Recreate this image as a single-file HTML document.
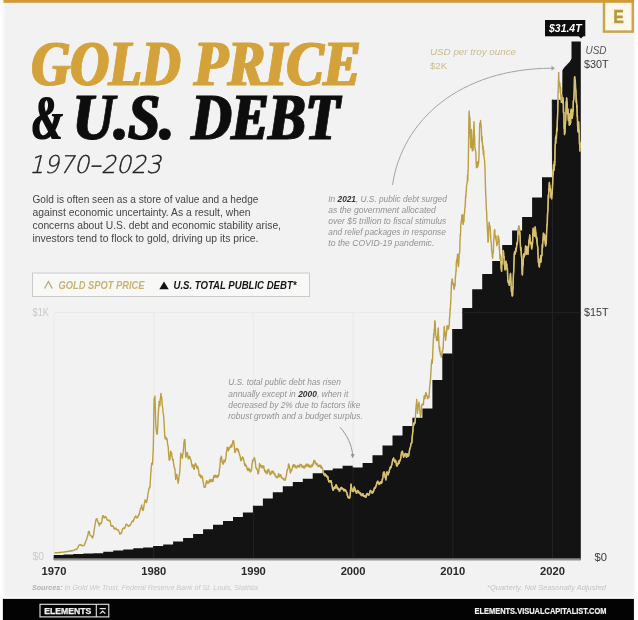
<!DOCTYPE html>
<html><head><meta charset="utf-8"><title>Gold Price &amp; U.S. Debt 1970–2023</title>
<style>
html,body{margin:0;padding:0;background:#f2f2f2;}
body{width:638px;height:620px;overflow:hidden;position:relative;}
svg{display:block;position:absolute;left:0;top:0;}
.serif{font-family:"Liberation Serif",serif;font-weight:bold;font-style:italic;}
.sans{font-family:"Liberation Sans",sans-serif;}
</style></head>
<body>
<svg width="638" height="620" viewBox="0 0 638 620">
  <rect x="0" y="0" width="638" height="620" fill="#f2f2f2"/>
  <defs>
    <linearGradient id="lg" x1="0" x2="1" y1="0" y2="0"><stop offset="0" stop-color="#ffffff"/><stop offset="0.3" stop-color="#fdfdfd"/><stop offset="1" stop-color="#f2f2f2"/></linearGradient>
    <linearGradient id="rg" x1="0" x2="1" y1="0" y2="0"><stop offset="0" stop-color="#f2f2f2"/><stop offset="0.5" stop-color="#fdfdfd"/><stop offset="1" stop-color="#ffffff"/></linearGradient>
    <filter id="didone" x="-5%" y="-5%" width="110%" height="110%"><feMorphology operator="dilate" radius="1.1 0.05"/></filter>
  </defs>
  <rect x="0" y="0" width="5.5" height="620" fill="url(#lg)"/>
  <rect x="633" y="0" width="5" height="620" fill="url(#rg)"/>
  <!-- top gold bar -->
  <!-- E logo -->
  <rect x="604" y="-1" width="28.8" height="32.6" fill="#fbf7e9" stroke="#c8a555" stroke-width="2.5"/>
  <rect x="3.5" y="0" width="630.5" height="2.8" fill="#d09b37"/>
  <text x="613.4" y="23.1" class="sans" font-weight="bold" font-size="18.5" fill="#b9983c" stroke="#b9983c" stroke-width="0.7" textLength="10.2" lengthAdjust="spacingAndGlyphs">E</text>

  <!-- title -->
  <text class="serif" font-size="64" fill="#d4a23a" stroke="#d4a23a" stroke-width="0.8" filter="url(#didone)"><tspan x="31.5" y="85.1" textLength="149" lengthAdjust="spacingAndGlyphs">GOLD</tspan><tspan x="194" y="85.1" textLength="166.5" lengthAdjust="spacingAndGlyphs">PRICE</tspan></text>
  <text class="serif" font-size="65" fill="#0e0e0e" stroke="#0e0e0e" stroke-width="0.8" filter="url(#didone)"><tspan x="73" y="138.5" textLength="101" lengthAdjust="spacingAndGlyphs">U.S.</tspan><tspan x="191.5" y="138.5" textLength="148" lengthAdjust="spacingAndGlyphs">DEBT</tspan></text>
  <text x="32.5" y="138.6" class="serif" font-size="64" fill="#0e0e0e" filter="url(#didone)" textLength="30" lengthAdjust="spacingAndGlyphs">&amp;</text>
  <text x="29" y="173.2" font-family="'DejaVu Sans Light','Liberation Sans',sans-serif" font-weight="200" font-style="italic" font-size="24.5" fill="#222" stroke="#222" stroke-width="0.35" textLength="132" lengthAdjust="spacingAndGlyphs">1970–2023</text>

  <!-- intro paragraph -->
  <g class="sans" font-size="10.6" fill="#454545">
    <text x="32.5" y="203" textLength="226" lengthAdjust="spacingAndGlyphs">Gold is often seen as a store of value and a hedge</text>
    <text x="32.5" y="216.2" textLength="218" lengthAdjust="spacingAndGlyphs">against economic uncertainty. As a result, when</text>
    <text x="32.5" y="229.2" textLength="248.5" lengthAdjust="spacingAndGlyphs">concerns about U.S. debt and economic stability arise,</text>
    <text x="32.5" y="242.2" textLength="226" lengthAdjust="spacingAndGlyphs">investors tend to flock to gold, driving up its price.</text>
  </g>

  <!-- legend -->
  <rect x="32.5" y="273" width="277" height="23.5" fill="#f8f8f7" stroke="#cbcbcb" stroke-width="1"/>
  <path d="M44.5,288.5 L48.4,281.5 L52.3,288.5" fill="none" stroke="#b3a97c" stroke-width="1.3"/>
  <text x="58.5" y="289.2" class="sans" font-weight="bold" font-style="italic" font-size="10.6" fill="#c9b370" textLength="86" lengthAdjust="spacingAndGlyphs">GOLD SPOT PRICE</text>
  <path d="M159.3,289.3 L164,281.6 L168.7,289.3 Z" fill="#111"/>
  <text x="173.5" y="289.2" class="sans" font-weight="bold" font-style="italic" font-size="10.6" fill="#151515" textLength="123" lengthAdjust="spacingAndGlyphs">U.S. TOTAL PUBLIC DEBT*</text>

  <!-- gridlines -->
  <g stroke="#eaeaea" stroke-width="1">
    <line x1="54.5" y1="312.6" x2="581" y2="312.6"/>
    <line x1="54" y1="312.6" x2="54" y2="559"/>
    <line x1="153.7" y1="312.6" x2="153.7" y2="559"/>
    <line x1="253.4" y1="312.6" x2="253.4" y2="559"/>
    <line x1="353.1" y1="312.6" x2="353.1" y2="559"/>
  </g>

  <!-- debt area -->
  <defs><path id="debt" d="M53.7,560.0L53.7,555.0L63.5,555.0L63.5,554.4L73.4,554.4L73.4,554.0L83.4,554.0L83.4,553.6L93.4,553.6L93.4,553.3L103.3,553.3L103.3,551.8L113.3,551.8L113.3,550.6L123.3,550.6L123.3,549.5L133.3,549.5L133.3,548.3L143.2,548.3L143.2,547.4L153.2,547.4L153.2,546.0L163.2,546.0L163.2,544.4L173.1,544.4L173.1,541.6L183.1,541.6L183.1,538.1L193.1,538.1L193.1,533.9L203.1,533.9L203.1,529.2L213.0,529.2L213.0,524.7L223.0,524.7L223.0,521.1L233.0,521.1L233.0,517.0L242.9,517.0L242.9,512.5L252.9,512.5L252.9,505.7L262.9,505.7L262.9,498.5L272.8,498.5L272.8,492.2L282.8,492.2L282.8,486.3L292.8,486.3L292.8,481.9L302.8,481.9L302.8,478.8L312.7,478.8L312.7,473.3L322.7,473.3L322.7,470.3L332.7,470.3L332.7,468.4L342.6,468.4L342.6,465.7L352.6,465.7L352.6,467.6L362.6,467.6L362.6,463.0L372.5,463.0L372.5,455.3L382.5,455.3L382.5,445.5L392.5,445.5L392.5,435.6L402.5,435.6L402.5,426.1L412.4,426.1L412.4,417.7L422.4,417.7L422.4,408.6L432.4,408.6L432.4,380.1L442.3,380.1L442.3,353.6L452.3,353.6L452.3,329.1L462.3,329.1L462.3,308.0L472.2,308.0L472.2,289.3L482.2,289.3L482.2,274.1L492.2,274.1L492.2,261.0L502.2,261.0L502.2,245.1L512.1,245.1L512.1,230.6L522.1,230.6L522.1,217.0L532.1,217.0L532.1,197.5L542.0,197.5L542.0,177.2L552.0,177.2L551.8,99.7L562.2,99.7L562.4,70.2C563.5,68.5 565,66.5 566.5,65.2C568.5,63.5 571,60.5 571.5,58.6L571.5,41.6L580.8,41.6L580.8,560.0Z"/><path id="goldp" d="M54.4,552.7L54.6,552.8L54.8,552.8L55.0,552.7L55.2,552.7L55.5,552.8L55.7,552.7L55.9,552.7L56.1,552.7L56.3,552.8L56.5,552.6L56.7,552.7L56.9,552.6L57.1,552.6L57.3,552.7L57.5,552.7L57.7,552.6L57.9,552.6L58.2,552.5L58.4,552.7L58.6,552.6L58.8,552.7L59.0,552.6L59.2,552.5L59.4,552.6L59.6,552.6L59.8,552.6L60.0,552.5L60.2,552.6L60.4,552.7L60.6,552.4L60.9,552.5L61.1,552.4L61.3,552.4L61.5,552.3L61.7,552.2L61.9,552.1L62.1,552.0L62.3,552.2L62.5,552.1L62.7,552.1L62.9,552.1L63.1,552.1L63.3,552.1L63.6,552.1L63.8,552.2L64.0,552.2L64.2,552.1L64.4,552.0L64.6,551.9L64.8,551.9L65.0,551.9L65.2,551.8L65.4,551.8L65.6,551.8L65.8,551.8L66.0,551.7L66.3,551.7L66.5,551.7L66.7,551.8L66.9,551.7L67.1,551.6L67.3,551.5L67.5,551.3L67.7,551.3L67.9,551.3L68.1,551.4L68.3,551.3L68.5,551.4L68.7,551.5L69.0,551.4L69.2,551.2L69.4,551.2L69.6,551.2L69.8,551.0L70.0,551.0L70.2,550.8L70.4,550.8L70.6,550.8L70.8,550.9L71.0,551.0L71.2,550.8L71.4,551.0L71.7,550.8L71.9,550.8L72.1,550.8L72.3,550.8L72.5,550.8L72.7,550.7L72.9,550.6L73.1,550.5L73.3,550.6L73.5,550.6L73.7,550.4L73.9,550.4L74.1,550.1L74.4,550.0L74.6,549.8L74.8,549.6L75.0,549.5L75.2,549.4L75.4,549.5L75.6,549.4L75.8,549.3L76.0,549.4L76.2,549.5L76.4,549.3L76.6,549.4L76.8,549.2L77.1,549.0L77.3,548.7L77.5,548.1L77.7,547.8L77.9,547.5L78.1,547.0L78.3,546.5L78.5,546.0L78.7,545.6L78.9,545.7L79.1,545.3L79.3,545.1L79.5,545.0L79.8,544.8L80.0,544.7L80.2,544.8L80.4,544.7L80.6,545.0L80.8,545.1L81.0,545.1L81.2,545.2L81.4,545.0L81.6,545.0L81.8,545.3L82.0,545.5L82.2,545.7L82.5,545.8L82.7,545.8L82.9,545.8L83.1,545.7L83.3,545.6L83.5,545.5L83.7,545.6L83.9,545.6L84.1,545.3L84.3,545.2L84.5,544.7L84.7,544.1L84.9,543.3L85.2,543.0L85.4,542.2L85.6,541.7L85.8,541.0L86.0,540.4L86.2,540.0L86.4,539.9L86.6,539.1L86.8,538.9L87.0,538.0L87.2,537.3L87.4,536.6L87.6,536.1L87.9,535.0L88.1,533.9L88.3,533.0L88.5,531.6L88.7,531.5L88.9,531.9L89.1,531.9L89.3,531.5L89.5,532.6L89.7,533.5L89.9,534.2L90.1,534.9L90.3,535.4L90.6,535.7L90.8,535.8L91.0,535.8L91.2,536.3L91.4,536.3L91.6,536.7L91.8,536.5L92.0,536.6L92.2,537.1L92.4,537.7L92.6,537.9L92.8,537.3L93.0,536.5L93.3,535.8L93.5,534.9L93.7,533.8L93.9,531.9L94.1,530.3L94.3,529.3L94.5,528.0L94.7,526.7L94.9,525.8L95.1,524.1L95.3,523.4L95.5,522.0L95.7,520.9L96.0,519.6L96.2,519.0L96.4,519.5L96.6,519.4L96.8,518.6L97.0,518.7L97.2,519.7L97.4,520.6L97.6,520.8L97.8,521.3L98.0,522.5L98.2,522.5L98.4,523.1L98.7,523.3L98.9,524.2L99.1,525.0L99.3,525.9L99.5,525.4L99.7,524.6L99.9,524.0L100.1,523.0L100.3,522.9L100.5,523.3L100.7,523.2L100.9,523.7L101.1,523.4L101.4,523.1L101.6,522.1L101.8,522.0L102.0,520.0L102.2,518.7L102.4,517.3L102.6,516.3L102.8,515.8L103.0,515.7L103.2,516.2L103.4,515.7L103.6,516.2L103.8,516.8L104.1,517.7L104.3,517.6L104.5,517.9L104.7,517.5L104.9,517.3L105.1,516.8L105.3,516.7L105.5,516.5L105.7,517.1L105.9,517.2L106.1,517.2L106.3,517.7L106.6,518.2L106.8,519.2L107.0,519.5L107.2,519.9L107.4,520.0L107.6,519.9L107.8,520.4L108.0,520.6L108.2,520.3L108.4,520.6L108.6,520.1L108.8,520.1L109.0,520.5L109.3,520.4L109.5,520.4L109.7,520.3L109.9,521.2L110.1,520.9L110.3,521.9L110.5,522.9L110.7,524.2L110.9,525.6L111.1,525.5L111.3,525.8L111.5,526.2L111.7,525.9L112.0,525.7L112.2,526.2L112.4,525.8L112.6,526.1L112.8,525.8L113.0,526.5L113.2,526.7L113.4,526.8L113.6,526.9L113.8,527.6L114.0,528.6L114.2,528.8L114.4,529.1L114.7,529.0L114.9,528.3L115.1,528.6L115.3,528.3L115.5,528.8L115.7,528.2L115.9,528.5L116.1,528.3L116.3,528.9L116.5,529.4L116.7,529.6L116.9,529.6L117.1,530.0L117.4,530.2L117.6,529.9L117.8,529.6L118.0,529.9L118.2,530.1L118.4,530.2L118.6,530.3L118.8,531.2L119.0,531.4L119.2,532.2L119.4,532.4L119.6,533.4L119.8,533.9L120.1,534.2L120.3,534.1L120.5,533.8L120.7,533.2L120.9,533.0L121.1,533.0L121.3,532.8L121.5,532.9L121.7,532.5L121.9,531.3L122.1,530.9L122.3,530.0L122.5,529.1L122.8,528.8L123.0,528.3L123.2,528.4L123.4,528.1L123.6,527.9L123.8,528.3L124.0,528.4L124.2,528.5L124.4,528.3L124.6,528.4L124.8,527.8L125.0,527.5L125.2,527.1L125.5,526.5L125.7,525.0L125.9,524.6L126.1,524.8L126.3,524.5L126.5,524.2L126.7,524.3L126.9,524.4L127.1,524.8L127.3,524.8L127.5,525.0L127.7,525.3L127.9,525.4L128.2,526.4L128.4,526.4L128.6,526.2L128.8,526.3L129.0,526.2L129.2,525.8L129.4,525.5L129.6,525.6L129.8,525.4L130.0,525.4L130.2,524.9L130.4,524.5L130.6,524.6L130.9,524.3L131.1,523.6L131.3,523.1L131.5,522.5L131.7,522.0L131.9,521.5L132.1,521.5L132.3,521.2L132.5,521.0L132.7,521.2L132.9,520.8L133.1,521.2L133.3,521.5L133.6,520.3L133.8,519.5L134.0,519.4L134.2,518.4L134.4,518.0L134.6,517.3L134.8,517.1L135.0,517.1L135.2,517.2L135.4,516.9L135.6,516.2L135.8,515.8L136.0,516.8L136.3,517.1L136.5,517.8L136.7,517.8L136.9,517.6L137.1,517.4L137.3,517.2L137.5,517.6L137.7,517.5L137.9,516.4L138.1,516.0L138.3,515.8L138.5,515.9L138.7,514.7L139.0,514.3L139.2,514.5L139.4,513.8L139.6,511.8L139.8,511.4L140.0,510.2L140.2,509.8L140.4,508.7L140.6,508.5L140.8,508.5L141.0,508.1L141.2,506.8L141.4,505.8L141.7,504.9L141.9,506.5L142.1,508.0L142.3,509.1L142.5,510.2L142.7,509.8L142.9,510.6L143.1,509.8L143.3,509.8L143.5,508.7L143.7,508.0L143.9,506.4L144.1,504.9L144.4,503.6L144.6,502.6L144.8,502.2L145.0,500.4L145.2,499.8L145.4,500.4L145.6,500.3L145.8,501.3L146.0,502.1L146.2,502.0L146.4,502.5L146.6,502.0L146.8,500.4L147.1,500.1L147.3,499.2L147.5,497.4L147.7,496.2L147.9,494.0L148.1,492.8L148.3,492.1L148.5,491.5L148.7,490.8L148.9,488.4L149.1,488.2L149.3,487.7L149.5,487.1L149.8,487.9L150.0,486.7L150.2,484.2L150.4,479.5L150.6,476.7L150.8,473.2L151.0,471.9L151.2,467.5L151.4,466.0L151.6,464.0L151.8,463.2L152.0,465.0L152.2,463.1L152.5,464.0L152.7,461.2L152.9,455.2L153.1,452.4L153.3,448.4L153.5,436.5L153.7,423.3L153.9,409.4L154.1,398.7L154.3,399.0L154.5,399.0L154.7,396.7L154.9,396.1L155.2,404.1L155.4,411.5L155.6,418.1L155.8,423.7L156.0,427.6L156.2,429.3L156.4,431.2L156.6,432.9L156.8,433.8L157.0,432.5L157.2,434.2L157.4,433.8L157.6,428.4L157.9,424.1L158.1,418.2L158.3,412.2L158.5,411.4L158.7,407.8L158.9,406.0L159.1,401.4L159.3,401.5L159.5,403.4L159.7,405.9L159.9,405.8L160.1,403.0L160.3,398.1L160.6,398.7L160.8,394.1L161.0,393.5L161.2,395.9L161.4,396.4L161.6,397.2L161.8,398.1L162.0,402.3L162.2,404.2L162.4,406.5L162.6,407.6L162.8,408.2L163.0,412.5L163.3,413.6L163.5,414.7L163.7,417.5L163.9,420.1L164.1,422.9L164.3,426.9L164.5,430.6L164.7,435.2L164.9,437.2L165.1,438.5L165.3,438.8L165.5,436.7L165.7,437.5L166.0,438.6L166.2,439.1L166.4,439.6L166.6,438.6L166.8,438.3L167.0,439.1L167.2,440.6L167.4,442.0L167.6,443.9L167.8,445.3L168.0,446.3L168.2,446.9L168.4,450.3L168.7,454.3L168.9,456.7L169.1,459.7L169.3,460.3L169.5,458.3L169.7,458.2L169.9,459.4L170.1,457.2L170.3,456.0L170.5,451.9L170.7,451.1L170.9,452.1L171.1,452.3L171.4,453.7L171.6,452.7L171.8,454.5L172.0,455.8L172.2,457.2L172.4,458.7L172.6,459.7L172.8,459.1L173.0,460.6L173.2,459.5L173.4,461.8L173.6,463.8L173.8,464.6L174.1,466.0L174.3,467.7L174.5,468.4L174.7,468.3L174.9,468.5L175.1,471.8L175.3,473.7L175.5,476.6L175.7,479.4L175.9,477.6L176.1,476.5L176.3,475.1L176.5,474.3L176.8,474.5L177.0,476.7L177.2,477.8L177.4,478.5L177.6,478.6L177.8,481.6L178.0,481.6L178.2,483.2L178.4,481.4L178.6,481.2L178.8,478.0L179.0,477.2L179.2,474.7L179.5,473.7L179.7,471.9L179.9,470.9L180.1,465.7L180.3,463.0L180.5,457.6L180.7,453.2L180.9,454.1L181.1,454.0L181.3,454.9L181.5,456.6L181.7,456.1L181.9,457.2L182.2,456.8L182.4,458.3L182.6,456.0L182.8,454.2L183.0,453.6L183.2,451.0L183.4,450.1L183.6,447.5L183.8,444.6L184.0,441.8L184.2,442.5L184.4,439.6L184.6,439.9L184.9,439.5L185.1,443.5L185.3,448.0L185.5,452.2L185.7,457.2L185.9,456.4L186.1,456.9L186.3,453.9L186.5,453.9L186.7,452.9L186.9,453.2L187.1,452.8L187.3,452.5L187.6,453.7L187.8,456.9L188.0,456.6L188.2,458.8L188.4,458.9L188.6,458.8L188.8,457.6L189.0,456.4L189.2,456.2L189.4,458.0L189.6,456.9L189.8,458.0L190.0,457.0L190.3,458.6L190.5,459.1L190.7,459.1L190.9,460.3L191.1,460.9L191.3,461.8L191.5,463.6L191.7,464.0L191.9,464.7L192.1,466.9L192.3,466.6L192.5,467.0L192.7,466.4L193.0,464.8L193.2,465.0L193.4,466.6L193.6,467.0L193.8,469.4L194.0,469.3L194.2,469.3L194.4,467.9L194.6,465.9L194.8,465.3L195.0,464.4L195.2,463.9L195.4,464.4L195.7,463.4L195.9,464.2L196.1,465.2L196.3,466.1L196.5,466.8L196.7,468.0L196.9,466.2L197.1,468.1L197.3,467.6L197.5,466.4L197.7,466.5L197.9,468.7L198.1,467.5L198.4,469.5L198.6,470.5L198.8,472.0L199.0,475.0L199.2,475.1L199.4,475.5L199.6,475.7L199.8,475.0L200.0,474.4L200.2,476.5L200.4,476.1L200.6,476.6L200.8,477.5L201.1,476.7L201.3,475.8L201.5,476.9L201.7,477.6L201.9,476.1L202.1,476.7L202.3,476.6L202.5,477.1L202.7,478.8L202.9,481.1L203.1,481.9L203.3,482.1L203.6,484.1L203.8,486.0L204.0,486.2L204.2,487.4L204.4,486.7L204.6,487.0L204.8,487.1L205.0,487.2L205.2,487.2L205.4,486.5L205.6,485.9L205.8,485.0L206.0,482.7L206.3,483.1L206.5,480.8L206.7,480.8L206.9,481.0L207.1,483.0L207.3,482.7L207.5,481.8L207.7,482.3L207.9,481.9L208.1,482.7L208.3,483.1L208.5,482.9L208.7,482.8L209.0,482.6L209.2,480.8L209.4,480.9L209.6,480.6L209.8,479.5L210.0,480.1L210.2,480.8L210.4,481.6L210.6,481.0L210.8,481.7L211.0,480.0L211.2,481.0L211.4,480.4L211.7,479.5L211.9,481.0L212.1,481.0L212.3,480.6L212.5,480.8L212.7,481.6L212.9,481.4L213.1,481.3L213.3,478.9L213.5,477.6L213.7,476.3L213.9,475.6L214.1,475.7L214.4,475.5L214.6,475.8L214.8,477.2L215.0,476.7L215.2,475.9L215.4,477.0L215.6,475.5L215.8,475.3L216.0,476.3L216.2,476.0L216.4,476.8L216.6,476.4L216.8,477.1L217.1,477.4L217.3,476.3L217.5,475.4L217.7,477.1L217.9,476.4L218.1,476.3L218.3,476.3L218.5,476.0L218.7,474.7L218.9,474.8L219.1,472.0L219.3,471.9L219.5,469.2L219.8,467.9L220.0,465.8L220.2,462.6L220.4,460.4L220.6,457.6L220.8,458.2L221.0,457.9L221.2,457.4L221.4,456.3L221.6,456.8L221.8,459.4L222.0,461.7L222.2,462.5L222.5,461.9L222.7,462.1L222.9,463.9L223.1,464.2L223.3,464.1L223.5,462.9L223.7,462.1L223.9,460.0L224.1,460.9L224.3,462.0L224.5,462.0L224.7,461.8L224.9,461.9L225.2,460.6L225.4,459.3L225.6,459.8L225.8,457.3L226.0,456.4L226.2,454.6L226.4,452.5L226.6,451.1L226.8,450.2L227.0,448.9L227.2,447.1L227.4,449.0L227.6,449.1L227.9,447.7L228.1,449.7L228.3,450.8L228.5,449.6L228.7,449.2L228.9,449.5L229.1,447.8L229.3,449.1L229.5,448.2L229.7,446.9L229.9,447.7L230.1,447.3L230.3,447.2L230.6,447.1L230.8,445.4L231.0,445.4L231.2,445.0L231.4,445.7L231.6,447.1L231.8,447.0L232.0,444.9L232.2,445.4L232.4,443.0L232.6,443.1L232.8,441.5L233.0,440.6L233.3,442.7L233.5,442.1L233.7,441.0L233.9,442.9L234.1,444.1L234.3,446.2L234.5,448.0L234.7,451.6L234.9,452.2L235.1,452.5L235.3,452.3L235.5,451.2L235.7,450.7L236.0,449.7L236.2,448.5L236.4,449.3L236.6,448.7L236.8,448.9L237.0,448.6L237.2,449.4L237.4,449.5L237.6,449.2L237.8,450.6L238.0,449.3L238.2,449.3L238.4,451.8L238.7,450.7L238.9,452.7L239.1,452.7L239.3,454.1L239.5,454.9L239.7,454.3L239.9,456.1L240.1,456.2L240.3,457.2L240.5,458.8L240.7,460.3L240.9,460.8L241.1,460.0L241.4,460.5L241.6,459.4L241.8,459.1L242.0,458.7L242.2,457.1L242.4,456.9L242.6,458.5L242.8,457.8L243.0,457.3L243.2,458.3L243.4,458.0L243.6,459.7L243.8,461.0L244.1,461.1L244.3,463.1L244.5,464.7L244.7,465.1L244.9,465.6L245.1,463.6L245.3,464.1L245.5,464.5L245.7,465.3L245.9,466.4L246.1,465.5L246.3,465.8L246.5,466.2L246.8,467.7L247.0,468.9L247.2,469.2L247.4,469.0L247.6,468.6L247.8,470.5L248.0,470.1L248.2,470.7L248.4,469.6L248.6,468.9L248.8,468.2L249.0,468.4L249.2,470.2L249.5,469.3L249.7,470.6L249.9,470.3L250.1,471.1L250.3,472.0L250.5,471.5L250.7,470.1L250.9,471.3L251.1,469.8L251.3,470.3L251.5,469.2L251.7,467.6L251.9,464.5L252.2,463.5L252.4,463.1L252.6,460.4L252.8,460.6L253.0,459.7L253.2,460.5L253.4,460.3L253.6,459.8L253.8,459.5L254.0,458.7L254.2,457.5L254.4,459.2L254.6,457.9L254.9,459.6L255.1,461.6L255.3,461.1L255.5,463.8L255.7,465.8L255.9,467.2L256.1,468.3L256.3,468.4L256.5,469.0L256.7,468.1L256.9,468.5L257.1,469.7L257.3,470.2L257.6,470.6L257.8,471.8L258.0,473.9L258.2,473.6L258.4,473.3L258.6,471.0L258.8,471.4L259.0,468.8L259.2,468.5L259.4,464.9L259.6,463.4L259.8,464.0L260.0,464.4L260.3,464.8L260.5,464.7L260.7,466.1L260.9,467.0L261.1,466.9L261.3,466.8L261.5,467.2L261.7,465.6L261.9,467.6L262.1,466.7L262.3,465.7L262.5,467.8L262.7,467.6L263.0,467.5L263.2,466.3L263.4,466.0L263.6,466.6L263.8,466.1L264.0,468.4L264.2,468.6L264.4,470.1L264.6,471.0L264.8,470.1L265.0,471.8L265.2,471.4L265.4,471.2L265.7,470.5L265.9,472.9L266.1,472.3L266.3,472.4L266.5,471.8L266.7,472.0L266.9,473.7L267.1,472.8L267.3,473.2L267.5,472.6L267.7,469.9L267.9,470.3L268.1,470.8L268.4,469.6L268.6,469.2L268.8,470.1L269.0,471.1L269.2,472.0L269.4,471.1L269.6,472.8L269.8,473.1L270.0,474.3L270.2,473.8L270.4,474.8L270.6,474.6L270.8,474.0L271.1,474.1L271.3,472.3L271.5,471.6L271.7,471.2L271.9,471.8L272.1,472.0L272.3,470.9L272.5,472.9L272.7,472.3L272.9,471.6L273.1,472.1L273.3,471.4L273.5,471.9L273.8,473.4L274.0,473.7L274.2,474.0L274.4,473.6L274.6,473.5L274.8,474.1L275.0,473.7L275.2,476.0L275.4,475.9L275.6,475.6L275.8,476.1L276.0,476.2L276.2,477.3L276.5,476.8L276.7,477.2L276.9,477.9L277.1,477.6L277.3,477.8L277.5,477.5L277.7,476.3L277.9,476.7L278.1,476.9L278.3,475.9L278.5,473.9L278.7,473.7L278.9,474.9L279.2,475.9L279.4,476.6L279.6,476.2L279.8,476.0L280.0,476.3L280.2,474.7L280.4,475.6L280.6,474.8L280.8,474.7L281.0,476.3L281.2,475.9L281.4,477.4L281.6,477.9L281.9,477.6L282.1,478.2L282.3,477.7L282.5,478.3L282.7,478.8L282.9,478.2L283.1,478.8L283.3,478.7L283.5,478.9L283.7,479.7L283.9,479.1L284.1,478.9L284.3,479.3L284.6,479.6L284.8,480.3L285.0,478.8L285.2,479.9L285.4,479.4L285.6,478.5L285.8,478.2L286.0,476.6L286.2,476.4L286.4,475.5L286.6,473.9L286.8,472.3L287.0,470.2L287.3,470.7L287.5,468.7L287.7,469.1L287.9,469.0L288.1,468.2L288.3,466.8L288.5,464.0L288.7,464.0L288.9,464.8L289.1,466.2L289.3,465.5L289.5,467.1L289.7,468.2L290.0,468.9L290.2,472.5L290.4,473.1L290.6,472.6L290.8,471.3L291.0,470.7L291.2,470.9L291.4,469.4L291.6,470.9L291.8,469.7L292.0,468.6L292.2,468.9L292.4,468.2L292.7,465.6L292.9,466.2L293.1,465.8L293.3,464.7L293.5,465.8L293.7,465.3L293.9,464.7L294.1,466.0L294.3,466.8L294.5,466.5L294.7,465.7L294.9,465.2L295.1,467.1L295.4,466.0L295.6,466.2L295.8,466.5L296.0,467.9L296.2,467.7L296.4,467.7L296.6,468.0L296.8,467.6L297.0,466.7L297.2,467.0L297.4,465.9L297.6,465.5L297.8,465.6L298.1,466.4L298.3,466.8L298.5,466.1L298.7,465.6L298.9,465.5L299.1,467.1L299.3,467.1L299.5,466.9L299.7,466.9L299.9,464.8L300.1,464.7L300.3,464.1L300.5,465.3L300.8,465.4L301.0,464.7L301.2,464.6L301.4,464.8L301.6,464.9L301.8,466.6L302.0,465.9L302.2,467.1L302.4,466.1L302.6,467.1L302.8,467.2L303.0,467.8L303.2,467.7L303.5,466.2L303.7,467.4L303.9,467.9L304.1,467.5L304.3,468.1L304.5,467.9L304.7,467.7L304.9,466.3L305.1,465.6L305.3,466.5L305.5,466.3L305.7,466.1L306.0,464.3L306.2,464.3L306.4,465.4L306.6,466.2L306.8,464.3L307.0,465.7L307.2,465.7L307.4,464.6L307.6,465.5L307.8,465.1L308.0,464.2L308.2,465.4L308.4,466.2L308.7,465.5L308.9,466.8L309.1,465.7L309.3,465.6L309.5,466.1L309.7,465.1L309.9,467.2L310.1,465.9L310.3,466.2L310.5,466.6L310.7,466.2L310.9,467.1L311.1,466.2L311.4,466.6L311.6,465.9L311.8,464.7L312.0,465.6L312.2,466.5L312.4,465.4L312.6,464.5L312.8,465.2L313.0,463.2L313.2,464.4L313.4,463.9L313.6,462.2L313.8,460.7L314.1,460.3L314.3,461.2L314.5,460.8L314.7,462.5L314.9,460.8L315.1,462.7L315.3,463.0L315.5,462.2L315.7,463.1L315.9,462.8L316.1,463.8L316.3,464.7L316.5,463.2L316.8,464.7L317.0,464.0L317.2,464.7L317.4,464.0L317.6,464.5L317.8,465.7L318.0,466.6L318.2,466.6L318.4,466.3L318.6,466.1L318.8,465.8L319.0,465.9L319.2,466.3L319.5,465.1L319.7,466.0L319.9,465.1L320.1,465.0L320.3,466.2L320.5,467.5L320.7,466.3L320.9,466.0L321.1,466.7L321.3,468.1L321.5,466.3L321.7,468.3L321.9,467.6L322.2,467.9L322.4,468.5L322.6,468.9L322.8,469.7L323.0,471.1L323.2,471.7L323.4,472.2L323.6,473.3L323.8,474.0L324.0,474.0L324.2,474.9L324.4,475.3L324.6,475.1L324.9,475.7L325.1,474.1L325.3,474.0L325.5,474.5L325.7,475.5L325.9,474.8L326.1,475.8L326.3,475.2L326.5,476.0L326.7,476.7L326.9,476.0L327.1,476.2L327.3,477.2L327.6,477.4L327.8,476.7L328.0,477.9L328.2,479.7L328.4,480.0L328.6,480.9L328.8,480.9L329.0,481.9L329.2,480.6L329.4,480.9L329.6,481.9L329.8,480.6L330.0,480.6L330.3,481.2L330.5,481.1L330.7,481.9L330.9,480.8L331.1,480.7L331.3,482.1L331.5,482.1L331.7,484.9L331.9,485.4L332.1,485.8L332.3,486.6L332.5,488.2L332.7,489.7L333.0,489.1L333.2,490.2L333.4,488.7L333.6,489.6L333.8,489.1L334.0,487.7L334.2,487.2L334.4,487.5L334.6,488.2L334.8,487.1L335.0,487.0L335.2,487.9L335.4,488.0L335.7,486.6L335.9,485.1L336.1,484.8L336.3,486.0L336.5,485.2L336.7,487.0L336.9,487.1L337.1,486.9L337.3,488.6L337.5,488.4L337.7,488.8L337.9,488.0L338.1,489.3L338.4,489.1L338.6,488.6L338.8,489.2L339.0,490.1L339.2,491.1L339.4,490.8L339.6,491.1L339.8,490.8L340.0,489.1L340.2,489.6L340.4,488.8L340.6,488.0L340.8,488.9L341.1,487.8L341.3,487.4L341.5,488.8L341.7,488.2L341.9,488.4L342.1,488.3L342.3,488.9L342.5,488.1L342.7,489.0L342.9,489.1L343.1,489.4L343.3,489.1L343.5,490.1L343.8,490.8L344.0,489.1L344.2,489.8L344.4,490.0L344.6,490.3L344.8,489.6L345.0,490.7L345.2,490.4L345.4,489.7L345.6,490.6L345.8,491.2L346.0,491.2L346.2,491.1L346.5,492.1L346.7,492.9L346.9,492.7L347.1,493.3L347.3,495.4L347.5,495.0L347.7,496.5L347.9,497.2L348.1,496.9L348.3,496.7L348.5,497.8L348.7,497.6L348.9,497.4L349.2,498.0L349.4,497.6L349.6,498.0L349.8,497.4L350.0,496.7L350.2,495.6L350.4,492.6L350.6,490.1L350.8,487.1L351.0,484.2L351.2,484.5L351.4,487.1L351.6,488.0L351.9,488.6L352.1,488.9L352.3,490.7L352.5,491.4L352.7,491.1L352.9,491.3L353.1,491.6L353.3,491.1L353.5,490.7L353.7,490.3L353.9,488.6L354.1,487.7L354.3,486.9L354.6,488.3L354.8,488.3L355.0,489.5L355.2,490.3L355.4,491.3L355.6,490.3L355.8,492.0L356.0,491.9L356.2,492.8L356.4,493.2L356.6,492.5L356.8,493.0L357.0,491.7L357.3,491.2L357.5,491.3L357.7,490.4L357.9,491.1L358.1,491.8L358.3,490.9L358.5,491.5L358.7,491.8L358.9,492.6L359.1,492.5L359.3,493.2L359.5,493.4L359.7,492.5L360.0,493.0L360.2,493.4L360.4,494.1L360.6,493.2L360.8,494.9L361.0,494.3L361.2,494.5L361.4,495.0L361.6,495.5L361.8,495.3L362.0,495.7L362.2,494.2L362.4,495.2L362.7,494.0L362.9,494.2L363.1,493.9L363.3,495.7L363.5,495.4L363.7,496.2L363.9,495.7L364.1,496.1L364.3,496.3L364.5,496.0L364.7,495.7L364.9,496.7L365.1,496.1L365.4,496.5L365.6,496.7L365.8,497.3L366.0,496.7L366.2,495.3L366.4,494.7L366.6,494.1L366.8,493.7L367.0,494.7L367.2,493.4L367.4,493.7L367.6,494.3L367.8,494.5L368.1,494.2L368.3,494.9L368.5,495.0L368.7,495.1L368.9,495.0L369.1,494.5L369.3,493.7L369.5,493.9L369.7,492.7L369.9,491.2L370.1,491.0L370.3,490.7L370.5,490.4L370.8,490.7L371.0,491.1L371.2,491.9L371.4,491.8L371.6,492.5L371.8,492.8L372.0,492.3L372.2,492.8L372.4,493.3L372.6,492.9L372.8,492.3L373.0,491.3L373.2,492.3L373.5,491.4L373.7,489.9L373.9,490.6L374.1,489.3L374.3,488.0L374.5,488.6L374.7,487.7L374.9,487.4L375.1,488.4L375.3,487.4L375.5,487.6L375.7,486.0L375.9,486.2L376.2,485.8L376.4,485.3L376.6,483.2L376.8,483.3L377.0,482.6L377.2,482.1L377.4,481.7L377.6,481.6L377.8,481.1L378.0,482.7L378.2,482.4L378.4,483.6L378.6,483.4L378.9,483.2L379.1,484.3L379.3,484.3L379.5,483.3L379.7,483.1L379.9,483.1L380.1,482.1L380.3,482.9L380.5,482.2L380.7,483.5L380.9,482.8L381.1,481.8L381.3,483.2L381.6,483.2L381.8,482.1L382.0,482.0L382.2,479.4L382.4,479.8L382.6,478.6L382.8,477.9L383.0,476.7L383.2,475.2L383.4,472.7L383.6,472.2L383.8,472.2L384.0,471.9L384.3,472.2L384.5,472.8L384.7,475.5L384.9,475.5L385.1,476.8L385.3,477.9L385.5,477.6L385.7,478.4L385.9,479.9L386.1,477.3L386.3,477.4L386.5,473.9L386.7,473.0L387.0,472.0L387.2,471.9L387.4,473.8L387.6,472.9L387.8,473.9L388.0,474.4L388.2,474.9L388.4,474.2L388.6,472.9L388.8,472.4L389.0,472.3L389.2,472.0L389.4,470.1L389.7,469.3L389.9,469.0L390.1,467.3L390.3,468.3L390.5,468.3L390.7,466.7L390.9,467.3L391.1,467.3L391.3,466.4L391.5,465.4L391.7,464.5L391.9,464.7L392.1,463.0L392.4,461.8L392.6,460.2L392.8,459.2L393.0,459.7L393.2,459.4L393.4,458.6L393.6,457.9L393.8,459.6L394.0,459.3L394.2,460.7L394.4,460.3L394.6,461.8L394.8,460.7L395.1,460.4L395.3,460.8L395.5,460.1L395.7,461.5L395.9,461.3L396.1,462.0L396.3,463.6L396.5,465.6L396.7,466.1L396.9,464.6L397.1,466.0L397.3,463.7L397.5,463.9L397.8,464.4L398.0,464.5L398.2,463.6L398.4,462.5L398.6,461.7L398.8,461.0L399.0,463.3L399.2,461.9L399.4,461.6L399.6,461.3L399.8,460.2L400.0,460.7L400.2,460.6L400.5,458.9L400.7,458.3L400.9,456.9L401.1,454.9L401.3,455.3L401.5,452.2L401.7,452.3L401.9,452.7L402.1,452.7L402.3,451.2L402.5,451.6L402.7,452.7L403.0,454.9L403.2,454.6L403.4,456.1L403.6,457.3L403.8,455.4L404.0,455.7L404.2,456.2L404.4,454.8L404.6,454.6L404.8,454.7L405.0,453.6L405.2,454.2L405.4,454.5L405.7,453.4L405.9,454.8L406.1,456.4L406.3,454.6L406.5,457.4L406.7,456.6L406.9,456.9L407.1,456.2L407.3,453.9L407.5,454.4L407.7,454.8L407.9,455.5L408.1,454.5L408.4,456.0L408.6,455.9L408.8,454.4L409.0,453.4L409.2,452.6L409.4,450.8L409.6,449.6L409.8,448.8L410.0,448.1L410.2,447.7L410.4,446.9L410.6,446.6L410.8,444.7L411.1,443.2L411.3,443.3L411.5,442.7L411.7,443.0L411.9,442.0L412.1,439.1L412.3,435.9L412.5,434.8L412.7,432.0L412.9,431.1L413.1,427.4L413.3,424.8L413.5,423.1L413.8,425.1L414.0,425.0L414.2,423.5L414.4,424.1L414.6,422.5L414.8,421.9L415.0,423.0L415.2,421.0L415.4,417.7L415.6,414.0L415.8,409.7L416.0,407.9L416.2,404.5L416.5,403.4L416.7,399.4L416.9,403.6L417.1,407.6L417.3,408.0L417.5,413.3L417.7,410.1L417.9,410.2L418.1,404.4L418.3,404.0L418.5,405.7L418.7,404.6L418.9,402.2L419.2,404.3L419.4,405.2L419.6,407.6L419.8,410.9L420.0,412.8L420.2,414.7L420.4,413.8L420.6,416.6L420.8,415.9L421.0,414.4L421.2,411.1L421.4,409.9L421.6,405.5L421.9,405.7L422.1,404.0L422.3,404.3L422.5,405.0L422.7,404.9L422.9,404.2L423.1,404.8L423.3,404.6L423.5,404.0L423.7,400.0L423.9,398.8L424.1,396.3L424.3,395.8L424.6,395.8L424.8,398.4L425.0,398.7L425.2,396.9L425.4,394.6L425.6,394.5L425.8,392.6L426.0,394.6L426.2,393.2L426.4,393.3L426.6,395.7L426.8,395.3L427.0,396.3L427.3,396.4L427.5,398.6L427.7,397.2L427.9,396.8L428.1,396.9L428.3,396.1L428.5,396.9L428.7,395.6L428.9,397.8L429.1,396.1L429.3,393.5L429.5,389.0L429.7,386.3L430.0,384.4L430.2,381.2L430.4,380.3L430.6,376.9L430.8,374.0L431.0,371.0L431.2,366.9L431.4,364.8L431.6,361.1L431.8,360.4L432.0,359.3L432.2,363.3L432.4,361.9L432.7,355.7L432.9,349.6L433.1,346.4L433.3,340.4L433.5,338.5L433.7,333.6L433.9,337.1L434.1,332.3L434.3,329.2L434.5,328.6L434.7,322.0L434.9,320.8L435.1,321.8L435.4,328.0L435.6,334.2L435.8,335.4L436.0,336.3L436.2,337.8L436.4,338.1L436.6,340.6L436.8,340.5L437.0,339.7L437.2,338.6L437.4,340.4L437.6,337.2L437.8,334.7L438.1,328.4L438.3,328.0L438.5,334.6L438.7,336.8L438.9,343.4L439.1,347.8L439.3,346.9L439.5,351.1L439.7,347.0L439.9,350.3L440.1,352.0L440.3,354.5L440.5,354.3L440.8,354.0L441.0,354.8L441.2,357.2L441.4,355.4L441.6,355.2L441.8,354.4L442.0,351.7L442.2,352.3L442.4,350.3L442.6,351.0L442.8,350.7L443.0,347.3L443.2,348.1L443.5,340.4L443.7,337.4L443.9,334.0L444.1,327.1L444.3,326.5L444.5,330.1L444.7,332.4L444.9,331.8L445.1,336.1L445.3,334.4L445.5,336.4L445.7,340.3L445.9,337.1L446.2,335.7L446.4,332.8L446.6,330.7L446.8,331.3L447.0,325.8L447.2,328.4L447.4,326.5L447.6,326.4L447.8,326.0L448.0,326.7L448.2,329.3L448.4,328.6L448.6,328.7L448.9,326.2L449.1,325.6L449.3,325.0L449.5,317.6L449.7,317.7L449.9,313.8L450.1,308.7L450.3,309.6L450.5,306.0L450.7,302.3L450.9,298.8L451.1,292.4L451.3,288.9L451.6,281.5L451.8,284.6L452.0,278.9L452.2,281.6L452.4,279.5L452.6,282.4L452.8,283.1L453.0,282.8L453.2,283.7L453.4,285.6L453.6,285.5L453.8,286.8L454.0,289.3L454.3,289.2L454.5,284.0L454.7,283.4L454.9,284.9L455.1,285.9L455.3,278.1L455.5,275.3L455.7,276.1L455.9,270.4L456.1,271.8L456.3,263.0L456.5,262.0L456.7,259.2L457.0,262.4L457.2,260.7L457.4,255.1L457.6,254.1L457.8,258.9L458.0,264.5L458.2,265.1L458.4,266.7L458.6,265.0L458.8,262.9L459.0,259.4L459.2,253.8L459.4,253.8L459.7,251.9L459.9,245.7L460.1,237.9L460.3,234.4L460.5,235.3L460.7,228.0L460.9,222.9L461.1,223.6L461.3,220.4L461.5,221.1L461.7,218.3L461.9,215.0L462.1,214.7L462.4,216.0L462.6,215.1L462.8,222.9L463.0,220.6L463.2,224.5L463.4,223.2L463.6,220.3L463.8,222.0L464.0,220.4L464.2,213.8L464.4,213.6L464.6,213.0L464.8,207.7L465.1,207.1L465.3,204.9L465.5,198.5L465.7,195.3L465.9,197.3L466.1,191.1L466.3,191.9L466.5,186.2L466.7,185.2L466.9,184.0L467.1,182.4L467.3,181.7L467.5,175.3L467.8,181.1L468.0,170.0L468.2,170.7L468.4,156.9L468.6,141.8L468.8,126.5L469.0,114.3L469.2,110.9L469.4,117.0L469.6,117.1L469.8,116.8L470.0,119.3L470.2,137.0L470.5,138.5L470.7,147.8L470.9,141.7L471.1,143.8L471.3,132.8L471.5,129.5L471.7,132.8L471.9,135.5L472.1,147.4L472.3,151.0L472.5,145.6L472.7,150.4L472.9,150.4L473.2,150.0L473.4,138.6L473.6,141.0L473.8,126.4L474.0,121.7L474.2,126.3L474.4,135.5L474.6,135.7L474.8,145.6L475.0,148.5L475.2,148.8L475.4,149.8L475.6,151.5L475.9,152.7L476.1,162.6L476.3,164.2L476.5,167.6L476.7,167.7L476.9,165.6L477.1,162.1L477.3,164.8L477.5,167.1L477.7,161.7L477.9,166.2L478.1,165.4L478.3,163.1L478.6,163.3L478.8,158.6L479.0,156.4L479.2,143.0L479.4,138.0L479.6,128.1L479.8,123.0L480.0,124.3L480.2,123.8L480.4,123.4L480.6,120.5L480.8,122.8L481.0,125.6L481.3,127.3L481.5,133.8L481.7,141.1L481.9,135.9L482.1,136.4L482.3,142.9L482.5,143.2L482.7,149.4L482.9,147.5L483.1,146.1L483.3,154.1L483.5,154.9L483.7,149.9L484.0,157.1L484.2,158.1L484.4,159.7L484.6,160.5L484.8,165.7L485.0,168.1L485.2,177.6L485.4,184.1L485.6,191.8L485.8,195.2L486.0,199.1L486.2,204.7L486.4,210.2L486.7,212.9L486.9,221.5L487.1,221.8L487.3,227.7L487.5,231.7L487.7,232.7L487.9,241.8L488.1,242.1L488.3,240.7L488.5,237.8L488.7,227.4L488.9,225.6L489.1,222.2L489.4,224.7L489.6,227.4L489.8,226.4L490.0,225.6L490.2,227.9L490.4,231.8L490.6,234.4L490.8,238.9L491.0,241.1L491.2,242.6L491.4,244.5L491.6,249.1L491.8,251.3L492.1,252.7L492.3,257.0L492.5,252.4L492.7,258.2L492.9,252.9L493.1,252.3L493.3,252.6L493.5,248.6L493.7,239.4L493.9,238.6L494.1,235.7L494.3,230.5L494.5,232.2L494.8,229.5L495.0,236.0L495.2,235.1L495.4,235.7L495.6,238.9L495.8,235.8L496.0,236.1L496.2,240.9L496.4,241.3L496.6,242.6L496.8,245.8L497.0,241.9L497.2,243.7L497.5,244.1L497.7,242.7L497.9,241.9L498.1,235.8L498.3,240.9L498.5,236.1L498.7,241.8L498.9,239.5L499.1,239.2L499.3,250.0L499.5,247.1L499.7,253.7L499.9,257.7L500.2,259.5L500.4,255.0L500.6,257.7L500.8,262.7L501.0,261.8L501.2,268.9L501.4,269.5L501.6,271.3L501.8,264.2L502.0,263.1L502.2,263.2L502.4,257.2L502.7,255.0L502.9,257.0L503.1,250.5L503.3,251.0L503.5,251.8L503.7,255.4L503.9,256.6L504.1,256.2L504.3,264.5L504.5,262.1L504.7,268.6L504.9,265.7L505.1,269.9L505.4,268.6L505.6,263.6L505.8,262.4L506.0,261.2L506.2,266.9L506.4,263.7L506.6,266.2L506.8,264.0L507.0,269.4L507.2,267.9L507.4,268.5L507.6,274.6L507.8,281.1L508.1,281.1L508.3,282.7L508.5,281.9L508.7,283.5L508.9,283.7L509.1,282.0L509.3,285.4L509.5,280.3L509.7,282.0L509.9,280.9L510.1,276.6L510.3,274.6L510.5,273.4L510.8,278.6L511.0,283.3L511.2,285.0L511.4,291.5L511.6,289.6L511.8,291.8L512.0,294.4L512.2,296.0L512.4,295.6L512.6,295.4L512.8,287.2L513.0,288.7L513.2,280.9L513.5,273.6L513.7,271.0L513.9,263.4L514.1,259.8L514.3,254.0L514.5,252.3L514.7,252.1L514.9,251.5L515.1,254.0L515.3,253.2L515.5,252.8L515.7,248.5L515.9,251.5L516.2,247.8L516.4,248.2L516.6,246.4L516.8,243.0L517.0,242.8L517.2,244.3L517.4,242.4L517.6,241.1L517.8,235.1L518.0,229.4L518.2,229.8L518.4,228.2L518.6,226.0L518.9,228.5L519.1,226.0L519.3,234.1L519.5,228.2L519.7,231.9L519.9,233.0L520.1,236.2L520.3,242.5L520.5,246.8L520.7,250.4L520.9,247.4L521.1,249.6L521.3,253.8L521.6,257.4L521.8,260.6L522.0,270.0L522.2,273.9L522.4,274.9L522.6,269.2L522.8,265.2L523.0,265.3L523.2,265.0L523.4,258.1L523.6,254.0L523.8,254.8L524.0,257.1L524.3,254.3L524.5,253.9L524.7,255.5L524.9,253.6L525.1,253.5L525.3,250.9L525.5,246.7L525.7,246.0L525.9,246.9L526.1,250.9L526.3,251.9L526.5,254.3L526.7,247.6L527.0,247.0L527.2,248.3L527.4,252.0L527.6,250.6L527.8,249.5L528.0,254.2L528.2,248.2L528.4,248.3L528.6,245.8L528.8,242.7L529.0,240.0L529.2,241.4L529.4,239.5L529.7,235.0L529.9,239.8L530.1,237.6L530.3,242.6L530.5,243.6L530.7,242.9L530.9,244.1L531.1,243.0L531.3,243.0L531.5,247.0L531.7,248.9L531.9,242.1L532.1,247.3L532.4,244.2L532.6,242.3L532.8,233.7L533.0,230.7L533.2,228.3L533.4,233.7L533.6,230.0L533.8,230.9L534.0,232.6L534.2,231.4L534.4,236.1L534.6,232.3L534.8,235.7L535.1,226.9L535.3,227.3L535.5,229.8L535.7,231.9L535.9,233.2L536.1,237.7L536.3,237.6L536.5,236.6L536.7,241.0L536.9,238.0L537.1,243.1L537.3,243.6L537.5,245.9L537.8,247.5L538.0,254.0L538.2,258.1L538.4,262.1L538.6,263.0L538.8,262.9L539.0,265.6L539.2,266.5L539.4,267.0L539.6,263.7L539.8,262.2L540.0,258.7L540.2,260.9L540.5,259.5L540.7,255.7L540.9,255.6L541.1,261.9L541.3,258.2L541.5,255.6L541.7,255.3L541.9,255.7L542.1,250.8L542.3,244.5L542.5,247.7L542.7,242.6L542.9,240.5L543.2,237.6L543.4,233.2L543.6,233.8L543.8,233.5L544.0,235.6L544.2,236.3L544.4,239.9L544.6,238.3L544.8,235.3L545.0,236.0L545.2,243.4L545.4,242.0L545.6,245.9L545.9,244.3L546.1,243.6L546.3,242.5L546.5,234.5L546.7,229.7L546.9,225.6L547.1,223.8L547.3,224.5L547.5,214.6L547.7,211.9L547.9,210.4L548.1,203.6L548.3,195.0L548.6,198.4L548.8,188.7L549.0,191.5L549.2,185.0L549.4,182.5L549.6,186.2L549.8,185.4L550.0,190.1L550.2,188.2L550.4,190.1L550.6,189.2L550.8,196.9L551.0,196.4L551.3,196.3L551.5,198.0L551.7,198.7L551.9,194.7L552.1,194.0L552.3,192.1L552.5,186.4L552.7,182.3L552.9,173.7L553.1,169.7L553.3,174.2L553.5,164.7L553.7,164.7L554.0,168.1L554.2,170.1L554.4,161.2L554.6,166.0L554.8,163.2L555.0,150.0L555.2,145.0L555.4,143.3L555.6,137.0L555.8,143.2L556.0,137.8L556.2,135.2L556.4,138.6L556.7,128.4L556.9,128.3L557.1,131.1L557.3,122.6L557.5,117.5L557.7,111.7L557.9,102.7L558.1,91.2L558.3,87.8L558.5,78.4L558.7,72.4L558.9,79.8L559.1,81.7L559.4,86.6L559.6,84.0L559.8,82.7L560.0,86.0L560.2,92.4L560.4,89.4L560.6,86.9L560.8,96.4L561.0,96.8L561.2,97.8L561.4,102.4L561.6,101.5L561.8,95.2L562.1,99.8L562.3,101.2L562.5,102.7L562.7,98.2L562.9,97.6L563.1,103.4L563.3,100.1L563.5,113.1L563.7,112.2L563.9,112.3L564.1,128.5L564.3,124.6L564.5,134.6L564.8,130.1L565.0,132.7L565.2,127.1L565.4,124.2L565.6,121.1L565.8,115.8L566.0,110.9L566.2,101.8L566.4,104.4L566.6,97.9L566.8,98.8L567.0,105.7L567.2,102.3L567.5,113.7L567.7,113.1L567.9,112.3L568.1,109.1L568.3,120.3L568.5,113.9L568.7,117.9L568.9,120.9L569.1,113.6L569.3,125.3L569.5,120.3L569.7,116.7L569.9,122.0L570.2,124.2L570.4,120.0L570.6,123.1L570.8,110.8L571.0,111.6L571.2,109.2L571.4,114.8L571.6,113.7L571.8,110.1L572.0,116.7L572.2,118.3L572.4,112.6L572.6,116.0L572.9,110.1L573.1,111.4L573.3,102.0L573.5,100.2L573.7,100.3L573.9,98.3L574.1,94.0L574.3,88.3L574.5,77.4L574.7,76.7L574.9,78.8L575.1,82.3L575.3,80.1L575.6,89.3L575.8,89.8L576.0,94.2L576.2,102.2L576.4,99.3L576.6,102.7L576.8,108.0L577.0,105.2L577.2,116.7L577.4,115.4L577.6,125.6L577.8,131.0L578.0,126.5L578.3,132.1L578.5,121.6L578.7,123.1L578.9,130.2L579.1,129.7L579.3,134.7L579.5,143.8L579.7,144.9L579.9,151.1L580.1,142.5L580.3,147.9"/><clipPath id="dclip"><use href="#debt"/></clipPath></defs>
  <use href="#debt" fill="#131313"/>
  <g stroke="#222" stroke-width="1" clip-path="url(#dclip)">
    <line x1="54" y1="312.6" x2="581" y2="312.6"/>
    <line x1="153.7" y1="300" x2="153.7" y2="560"/>
    <line x1="253.4" y1="300" x2="253.4" y2="560"/>
    <line x1="353.1" y1="300" x2="353.1" y2="560"/>
    <line x1="452.8" y1="300" x2="452.8" y2="560"/>
    <line x1="552.5" y1="60" x2="552.5" y2="560"/>
  </g>
  <!-- gold line -->
  <use href="#goldp" fill="none" stroke="#bb9f42" stroke-width="1.4" stroke-linejoin="round"/>
  <use href="#goldp" fill="none" stroke="#d6c174" stroke-width="1.4" stroke-linejoin="round" clip-path="url(#dclip)"/>
  <rect x="53.8" y="558.3" width="527" height="2.2" fill="#8f8f8f"/>

  <!-- $31.4T label -->
  <rect x="545" y="20" width="40.3" height="16.3" fill="#0d0d0d"/>
  <path d="M578.5,36 L583.5,36 L581,38.6 Z" fill="#0d0d0d"/>
  <text x="549" y="31.8" class="sans" font-weight="bold" font-style="italic" font-size="10.5" fill="#fff" textLength="32.6" lengthAdjust="spacingAndGlyphs">$31.4T</text>

  <!-- axis labels -->
  <g class="sans" font-size="10" fill="#cacaca">
    <text x="32.6" y="316.3" textLength="16.4" lengthAdjust="spacingAndGlyphs">$1K</text>
    <text x="32.6" y="560.3" textLength="11.4" lengthAdjust="spacingAndGlyphs">$0</text>
  </g>
  <g class="sans" font-size="10" fill="#3a3a3a">
    <text x="585.5" y="53.8" font-style="italic" fill="#555" textLength="21" lengthAdjust="spacingAndGlyphs">USD</text>
    <text x="584" y="68.4" textLength="24.6" lengthAdjust="spacingAndGlyphs">$30T</text>
    <text x="584" y="316.3" textLength="24.6" lengthAdjust="spacingAndGlyphs">$15T</text>
    <text x="594.6" y="560.8" textLength="12.4" lengthAdjust="spacingAndGlyphs">$0</text>
  </g>
  <text x="430" y="55" class="sans" font-style="italic" font-size="9.6" fill="#c9bb8f" textLength="86" lengthAdjust="spacingAndGlyphs">USD per troy ounce</text>
  <text x="430" y="69" class="sans" font-size="9.6" fill="#c9bb8f">$2K</text>

  <!-- x axis -->
  <g class="sans" font-weight="bold" font-size="11.2" fill="#2a2a2a" text-anchor="middle">
    <text x="54" y="575.3">1970</text>
    <text x="153.7" y="575.3">1980</text>
    <text x="253.4" y="575.3">1990</text>
    <text x="353.1" y="575.3">2000</text>
    <text x="452.8" y="575.3">2010</text>
    <text x="552.5" y="575.3">2020</text>
  </g>

  <!-- annotations -->
  <g class="sans" font-style="italic" font-size="8.8" fill="#929292">
    <text x="328.3" y="202" textLength="118.5" lengthAdjust="spacingAndGlyphs">In <tspan font-weight="bold" fill="#333">2021</tspan>, U.S. public debt surged</text>
    <text x="328.3" y="213.1" textLength="107.5" lengthAdjust="spacingAndGlyphs">as the government allocated</text>
    <text x="328.3" y="224.2" textLength="118" lengthAdjust="spacingAndGlyphs">over $5 trillion to fiscal stimulus</text>
    <text x="328.3" y="235.3" textLength="117.5" lengthAdjust="spacingAndGlyphs">and relief packages in response</text>
    <text x="328.3" y="246.4" textLength="106" lengthAdjust="spacingAndGlyphs">to the COVID-19 pandemic.</text>

    <text x="228.3" y="385.3" textLength="112.5" lengthAdjust="spacingAndGlyphs">U.S. total public debt has risen</text>
    <text x="228.3" y="396.6" textLength="120" lengthAdjust="spacingAndGlyphs">annually except in <tspan font-weight="bold" fill="#333">2000</tspan>, when it</text>
    <text x="228.3" y="407.9" textLength="132" lengthAdjust="spacingAndGlyphs">decreased by 2% due to factors like</text>
    <text x="228.3" y="419.2" textLength="134.5" lengthAdjust="spacingAndGlyphs">robust growth and a budget surplus.</text>
  </g>
  <!-- arrows -->
  <path d="M392.5,185 C402,120 460,68.5 552,68.2" fill="none" stroke="#a3a3a3" stroke-width="1"/>
  <path d="M551.5,65.7 L555,68.2 L551.5,70.7 Z" fill="#a3a3a3"/>
  <path d="M340,427.3 C347,435 352,445 352.6,455" fill="none" stroke="#949494" stroke-width="1"/>
  <path d="M350.6,454.3 L352.7,458.3 L354.7,454.1 Z" fill="#949494"/>

  <!-- sources -->
  <text x="32" y="590" class="sans" font-style="italic" font-size="7.6" fill="#c9c9c9" textLength="226" lengthAdjust="spacingAndGlyphs"><tspan font-weight="bold" fill="#b0b0b0">Sources:</tspan> In Gold We Trust, Federal Reserve Bank of St. Louis, Statista</text>
  <text x="606" y="589.5" class="sans" font-style="italic" font-size="7.6" fill="#c4c4c4" text-anchor="end" textLength="119" lengthAdjust="spacingAndGlyphs">*Quarterly. Not Seasonally Adjusted</text>

  <!-- footer -->
  <rect x="0" y="596.6" width="638" height="2.4" fill="#fafafa"/>
  <rect x="2.9" y="598.9" width="631" height="22" fill="#030303"/>
  <rect x="40" y="604.3" width="68.8" height="12.6" fill="none" stroke="#e8e8e8" stroke-width="1.1"/>
  <line x1="96.3" y1="604.3" x2="96.3" y2="616.9" stroke="#e8e8e8" stroke-width="1.1"/>
  <text x="44.2" y="613.7" class="sans" font-weight="bold" font-size="8.2" fill="#f0f0f0" stroke="#f0f0f0" stroke-width="0.25" textLength="47.2" lengthAdjust="spacingAndGlyphs">ELEMENTS</text>
  <path d="M99.6,608.6 H105.8" fill="none" stroke="#e8e8e8" stroke-width="1.2"/>
  <path d="M99.4,613.6 L102.7,610.2 L106,613.6 L104.6,613.8 L102.7,611.9 L100.8,613.8 Z" fill="#e8e8e8"/>
  <text x="474.5" y="614.3" class="sans" font-weight="bold" font-size="8.6" fill="#f2f2f2" stroke="#f2f2f2" stroke-width="0.2" textLength="132" lengthAdjust="spacingAndGlyphs">ELEMENTS.VISUALCAPITALIST.COM</text>
</svg>
</body></html>
